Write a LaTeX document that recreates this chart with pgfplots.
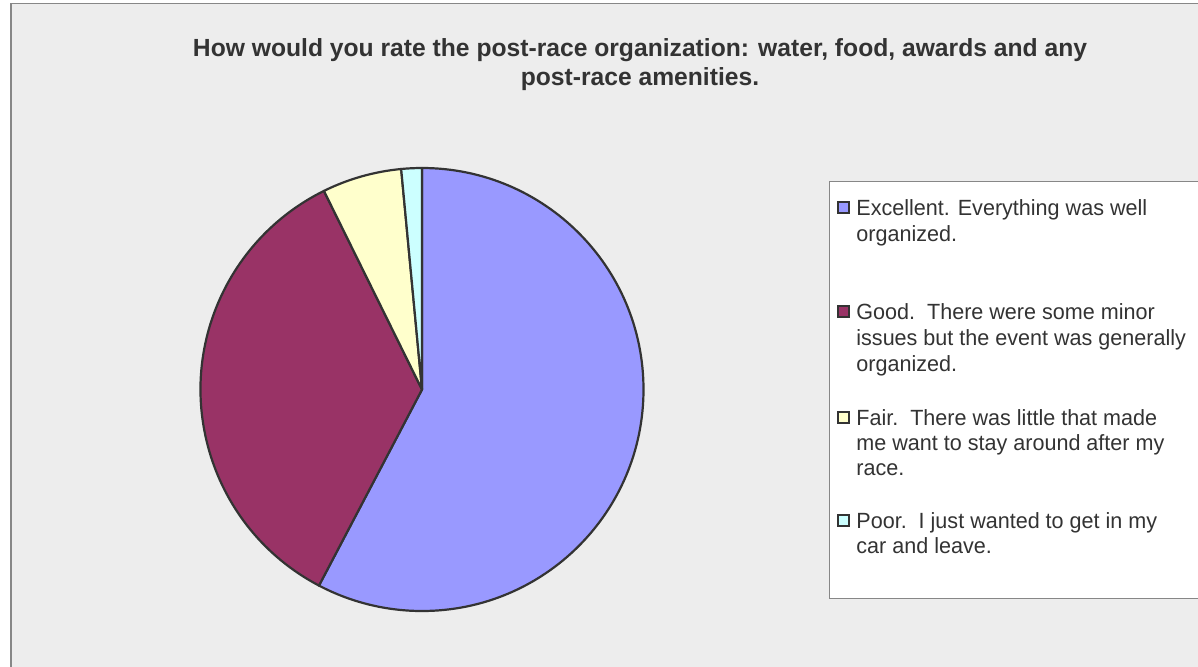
\documentclass[border=0pt]{standalone}
\usepackage{fontspec}
\setmainfont{Liberation Sans}
\usepackage{graphicx}
\usepackage{pgfplots}
\usepackage{pgfplotstable}
\pgfplotsset{compat=1.18}
\definecolor{bgc}{HTML}{EDEDED}
\definecolor{framec}{HTML}{878787}
\definecolor{pie0}{HTML}{9999FF}
\definecolor{pie1}{HTML}{993366}
\definecolor{pie2}{HTML}{FFFFCC}
\definecolor{pie3}{HTML}{CCFFFF}
\definecolor{edgec}{HTML}{333333}
\definecolor{txt}{HTML}{333333}
\newcommand\lt[1]{\scalebox{0.98}[1]{#1}}

% share of answers (percent), clockwise from 12 o'clock
\pgfplotstableread{
share
57.7
35.0
5.8
1.5
}\piedata

\begin{document}
\begin{tikzpicture}
\useasboundingbox (0,0) rectangle (599pt,333pt);
\clip (0,0) rectangle (599pt,333pt);
\fill[white] (0,0) rectangle (599pt,333pt);
\filldraw[fill=bgc, draw=framec, line width=0.6pt] (5.5pt,-10pt) rectangle (610pt,331.25pt);

% title
\node[anchor=base, text=txt, inner sep=0pt] at (320pt,305pt)
  {\resizebox{447pt}{\height}{\fontsize{12.4}{14.5}\selectfont\bfseries
   \begin{tabular}[t]{@{}c@{}}How would you rate the post-race organization: water, food, awards and any\\post-race amenities.\end{tabular}}};

% pie
\begin{axis}[at={(211pt,138.25pt)}, anchor=origin, x=110.75pt, y=110.75pt,
  xmin=-1.05, xmax=1.05, ymin=-1.05, ymax=1.05, hide axis, clip=false]
\addplot[draw=none] coordinates {(0,0)};
\pgfplotstablegetrowsof{\piedata}
\pgfmathtruncatemacro\nrows{\pgfplotsretval-1}
\gdef\startang{90}
\pgfplotsforeachungrouped \i in {0,...,\nrows}{
  \pgfplotstablegetelem{\i}{share}\of\piedata
  \pgfmathsetmacro\endang{\startang-3.6*\pgfplotsretval}
  \edef\cmd{\noexpand\filldraw[fill=pie\i, draw=edgec, line width=1.1pt, line join=round] (axis cs:0,0) -- ++(\startang:110.75pt) arc[start angle=\startang, end angle=\endang, radius=110.75pt] -- cycle;}
  \cmd
  \global\let\startang\endang
}
\end{axis}

% legend
\filldraw[fill=white, draw=framec, line width=0.6pt] (414.65pt,33.85pt) rectangle (620pt,242.15pt);
\begin{scope}[every path/.style={draw=edgec, line width=0.8pt}]
\filldraw[fill=pie0] (419pt,226.5pt) rectangle (424.5pt,232pt);
\filldraw[fill=pie1] (419pt,174.5pt) rectangle (424.5pt,180pt);
\filldraw[fill=pie2] (419pt,121.5pt) rectangle (424.5pt,127pt);
\filldraw[fill=pie3] (419pt,70pt) rectangle (424.5pt,75.5pt);
\end{scope}
\begin{scope}[every node/.style={anchor=base west, inner sep=0pt, text=txt, font=\fontsize{11}{12.5}\selectfont}]
\node at (428pt,225.5pt) {\lt{Excellent. Everything was well}};
\node at (428pt,212.5pt) {\lt{organized.}};
\node at (428pt,173.5pt) {\lt{Good.\ \ There were some minor}};
\node at (428pt,160.5pt) {\lt{issues but the event was generally}};
\node at (428pt,147.5pt) {\lt{organized.}};
\node at (428pt,120.5pt) {\lt{Fair.\ \ There was little that made}};
\node at (428pt,108pt) {\lt{me want to stay around after my}};
\node at (428pt,95.5pt) {\lt{race.}};
\node at (428pt,69pt) {\lt{Poor.\ \ I just wanted to get in my}};
\node at (428pt,56.5pt) {\lt{car and leave.}};
\end{scope}
\end{tikzpicture}
\end{document}
